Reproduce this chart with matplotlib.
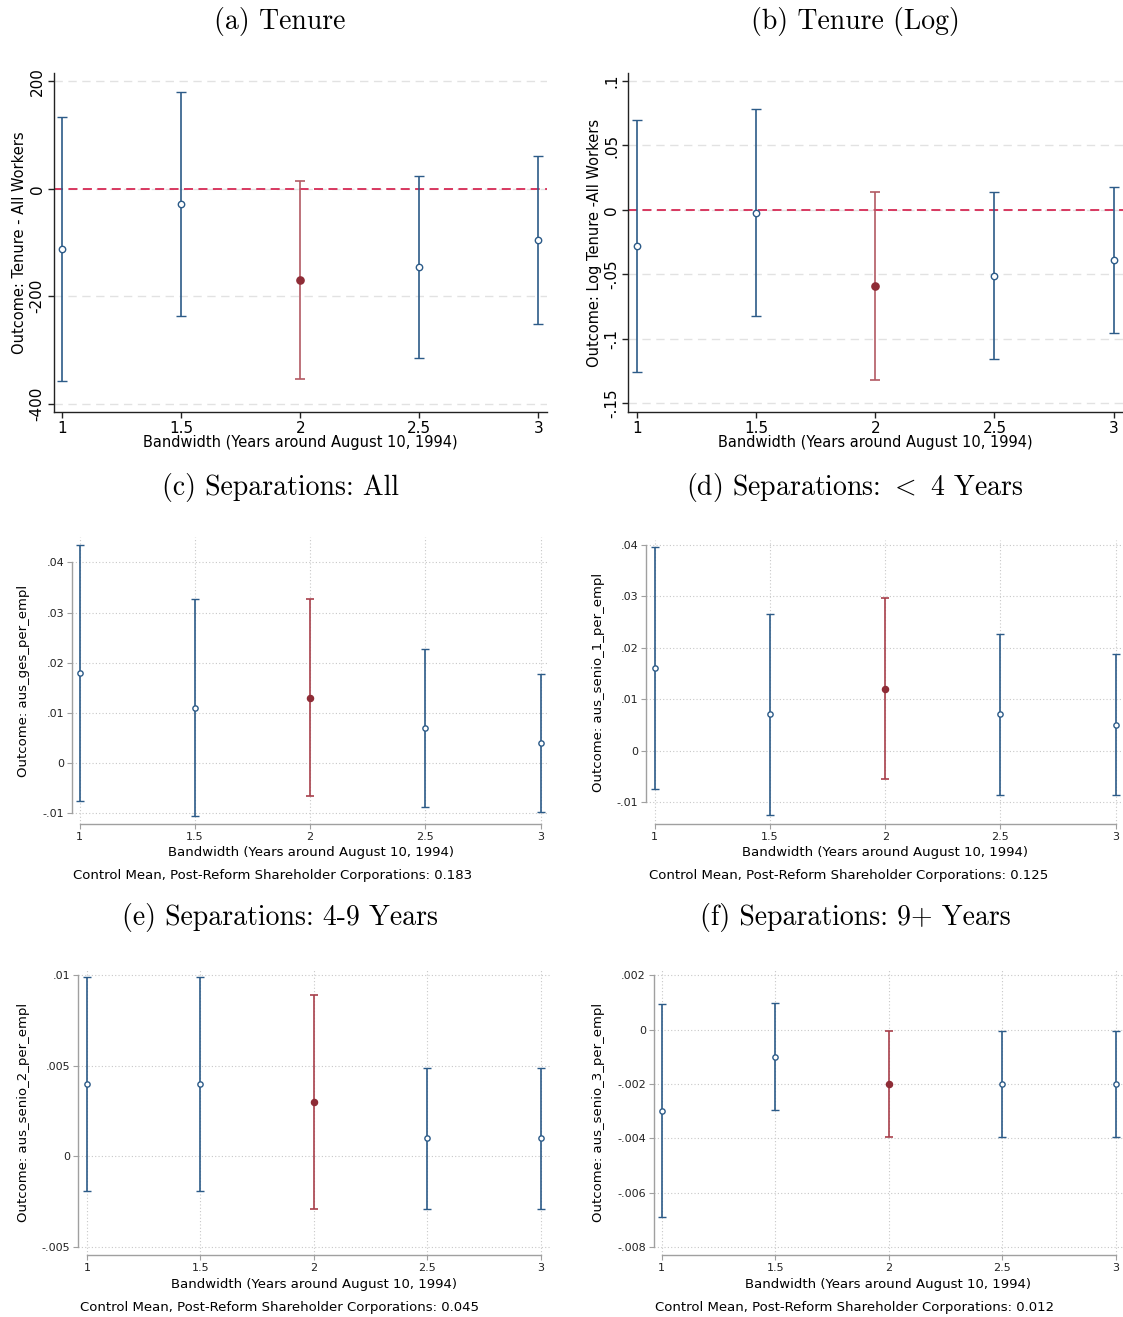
import matplotlib
matplotlib.use("Agg")
import matplotlib.pyplot as plt
import numpy as np

plt.rcParams['font.family'] = ['DejaVu Sans']
plt.rcParams['mathtext.fontset'] = 'cm'

# ---------------- data ----------------
bandwidth = [1, 1.5, 2, 2.5, 3]
xtick_labels = ["1", "1.5", "2", "2.5", "3"]
highlight_bw = 2

tenure_coef = [-113, -28, -170, -146, -95]
tenure_lo = [-358, -236, -353, -315, -251]
tenure_hi = [133, 179, 14, 24, 61]
tenure_ticks = [-400, -200, 0, 200]
tenure_ticklabels = ["-400", "-200", "0", "200"]

logten_coef = [-0.028, -0.002, -0.059, -0.051, -0.039]
logten_lo = [-0.126, -0.082, -0.1315, -0.1155, -0.0956]
logten_hi = [0.070, 0.0786, 0.0137, 0.0137, 0.0178]
logten_ticks = [-0.15, -0.1, -0.05, 0, 0.05, 0.1]
logten_ticklabels = ["-.15", "-.1", "-.05", "0", ".05", ".1"]

sepall_coef = [0.018, 0.011, 0.013, 0.007, 0.004]
sepall_lo = [-0.0075, -0.0106, -0.0066, -0.0087, -0.0097]
sepall_hi = [0.0435, 0.0326, 0.0326, 0.0227, 0.0177]
sepall_ticks = [-0.01, 0, 0.01, 0.02, 0.03, 0.04]
sepall_ticklabels = ["-.01", "0", ".01", ".02", ".03", ".04"]

sep1_coef = [0.016, 0.007, 0.012, 0.007, 0.005]
sep1_lo = [-0.0075, -0.0126, -0.0056, -0.0087, -0.0087]
sep1_hi = [0.0396, 0.0266, 0.0297, 0.0227, 0.0187]
sep1_ticks = [-0.01, 0, 0.01, 0.02, 0.03, 0.04]
sep1_ticklabels = ["-.01", "0", ".01", ".02", ".03", ".04"]

sep2_coef = [0.004, 0.004, 0.003, 0.001, 0.001]
sep2_lo = [-0.0019, -0.0019, -0.0029, -0.0029, -0.0029]
sep2_hi = [0.0099, 0.0099, 0.0089, 0.0049, 0.0049]
sep2_ticks = [-0.005, 0, 0.005, 0.01]
sep2_ticklabels = ["-.005", "0", ".005", ".01"]

sep3_coef = [-0.003, -0.001, -0.002, -0.002, -0.002]
sep3_lo = [-0.0069, -0.00296, -0.00396, -0.00396, -0.00396]
sep3_hi = [0.00093, 0.00097, -0.00004, -0.00004, -0.00004]
sep3_ticks = [-0.008, -0.006, -0.004, -0.002, 0, 0.002]
sep3_ticklabels = ["-.008", "-.006", "-.004", "-.002", "0", ".002"]

titles = ["(a) Tenure", "(b) Tenure (Log)", "(c) Separations: All",
          r"(d) Separations: $<$ 4 Years", "(e) Separations: 4-9 Years",
          "(f) Separations: 9+ Years"]
ylabels = ["Outcome: Tenure - All Workers", "Outcome: Log Tenure -All Workers",
           "Outcome: aus_ges_per_empl", "Outcome: aus_senio_1_per_empl",
           "Outcome: aus_senio_2_per_empl", "Outcome: aus_senio_3_per_empl"]
xlabel = "Bandwidth (Years around August 10, 1994)"
control_means = [None, None, "0.183", "0.125", "0.045", "0.012"]
note_prefix = "Control Mean, Post-Reform Shareholder Corporations: "

# ---------------- style ----------------
W, H = 1123, 1317
BLUE = '#2c5b88'
RED_PT = '#8e2c36'
RED_BAR = '#b35a63'
ZERO_RED = '#d62a55'

fig = plt.figure(figsize=(W / 100, H / 100), dpi=100)

def axes_px(l, r, t, b):
    return fig.add_axes([l / W, 1 - b / H, (r - l) / W, (b - t) / H])

panels = [
    dict(box=(53.6, 547, 73, 412), xlim=(0.963, 3.037), ylim=(-415, 215),
         coef=tenure_coef, lo=tenure_lo, hi=tenure_hi,
         ticks=tenure_ticks, tl=tenure_ticklabels, style='top',
         ylc=-0.0689, xlc=-0.0885, title_xy=(280, 22)),
    dict(box=(628, 1123, 73, 412), xlim=(0.962, 3.0395), ylim=(-0.1567, 0.1062),
         coef=logten_coef, lo=logten_lo, hi=logten_hi,
         ticks=logten_ticks, tl=logten_ticklabels, style='top',
         ylc=-0.0673, xlc=-0.0885, title_xy=(855, 22)),
    dict(box=(72, 549, 537, 824), xlim=(0.967, 3.036), ylim=(-0.01213, 0.04504),
         coef=sepall_coef, lo=sepall_lo, hi=sepall_hi,
         ticks=sepall_ticks, tl=sepall_ticklabels, style='bottom',
         ylc=-0.1027, xlc=-0.101, title_xy=(280, 488), note_xy=(273, 875)),
    dict(box=(646, 1123, 540, 824), xlim=(0.962, 3.032), ylim=(-0.01428, 0.0409),
         coef=sep1_coef, lo=sep1_lo, hi=sep1_hi,
         ticks=sep1_ticks, tl=sep1_ticklabels, style='bottom',
         ylc=-0.1006, xlc=-0.102, title_xy=(855, 488), note_xy=(849, 875)),
    dict(box=(78, 549.6, 970, 1255), xlim=(0.961, 3.039), ylim=(-0.00544, 0.01029),
         coef=sep2_coef, lo=sep2_lo, hi=sep2_hi,
         ticks=sep2_ticks, tl=sep2_ticklabels, style='bottom',
         ylc=-0.1166, xlc=-0.1018, title_xy=(280, 918), note_xy=(280, 1307)),
    dict(box=(653.6, 1123, 970, 1255), xlim=(0.964, 3.032), ylim=(-0.0083, 0.0022),
         coef=sep3_coef, lo=sep3_lo, hi=sep3_hi,
         ticks=sep3_ticks, tl=sep3_ticklabels, style='bottom',
         ylc=-0.1184, xlc=-0.1018, title_xy=(855, 918), note_xy=(855, 1307)),
]

for i, p in enumerate(panels):
    ax = axes_px(*p['box'])
    x = np.array(bandwidth, dtype=float)
    c = np.array(p['coef'], dtype=float)
    lo = np.array(p['lo'], dtype=float)
    hi = np.array(p['hi'], dtype=float)
    red = np.isclose(x, highlight_bw)
    blue = ~red
    top = p['style'] == 'top'

    ms_b = 4.6 if top else 3.8
    ms_r = 5.2 if top else 4.4
    cap = 3.6 if top else 2.6
    lw = 1.2 if top else 1.2

    ax.errorbar(x[blue], c[blue], yerr=[c[blue] - lo[blue], hi[blue] - c[blue]],
                fmt='o', color=BLUE, ecolor=BLUE, elinewidth=lw, capsize=cap,
                capthick=lw, markersize=ms_b, markerfacecolor='white',
                markeredgecolor=BLUE, markeredgewidth=1.0, zorder=3)
    ax.errorbar(x[red], c[red], yerr=[c[red] - lo[red], hi[red] - c[red]],
                fmt='o', color=RED_PT, ecolor=RED_BAR if top else '#a8404b',
                elinewidth=lw, capsize=cap, capthick=lw, markersize=ms_r,
                markerfacecolor=RED_PT, markeredgecolor=RED_PT, zorder=3)

    ax.set_xlim(*p['xlim'])
    ax.set_ylim(*p['ylim'])
    ax.set_xticks(bandwidth)
    ax.set_xticklabels(xtick_labels)
    ax.set_yticks(p['ticks'])
    ax.set_yticklabels(p['tl'])
    ax.spines['top'].set_visible(False)
    ax.spines['right'].set_visible(False)

    if top:
        ax.axhline(0, color=ZERO_RED, lw=1.3, dashes=(5, 3), zorder=2)
        for t in p['ticks']:
            ax.axhline(t, color='#e2e2e2', lw=1.0, dashes=(6, 4), zorder=1)
        for s in ('left', 'bottom'):
            ax.spines[s].set_color('#222222')
            ax.spines[s].set_linewidth(1.0)
        ax.tick_params(axis='both', direction='out', length=4.5, width=1.0,
                       color='#222222', labelsize=11, pad=2)
        for lab in ax.get_yticklabels():
            lab.set_rotation(90)
            lab.set_va('center')
        ax.set_ylabel(ylabels[i], fontsize=10.5, va='center')
        ax.set_xlabel(xlabel, fontsize=10.5, va='center')
    else:
        ax.grid(True, which='major', axis='both', linestyle=(0, (1, 2)),
                color='#c8c8c8', lw=0.8, zorder=0)
        for s in ('left', 'bottom'):
            ax.spines[s].set_color('#a0a0a0')
            ax.spines[s].set_linewidth(1.0)
        ax.spines['left'].set_bounds(p['ticks'][0], p['ticks'][-1])
        ax.spines['bottom'].set_bounds(bandwidth[0], bandwidth[-1])
        ax.tick_params(axis='both', direction='out', length=3.5, width=0.8,
                       color='#a0a0a0', labelsize=8, pad=2, labelcolor='#222222')
        ax.set_ylabel(ylabels[i], fontsize=9.5, va='center')
        ax.set_xlabel(xlabel, fontsize=9.5, va='center')
        fig.text(p['note_xy'][0] / W, 1 - p['note_xy'][1] / H,
                 note_prefix + control_means[i], fontsize=9.5,
                 ha='center', va='center')
    ax.yaxis.set_label_coords(p['ylc'], 0.5)
    ax.xaxis.set_label_coords(0.5, p['xlc'])
    ax.set_axisbelow(True)

    fig.text(p['title_xy'][0] / W, 1 - p['title_xy'][1] / H, titles[i],
             fontsize=20, family='cmr10', ha='center', va='center')

fig.savefig("out.png", dpi=100)
